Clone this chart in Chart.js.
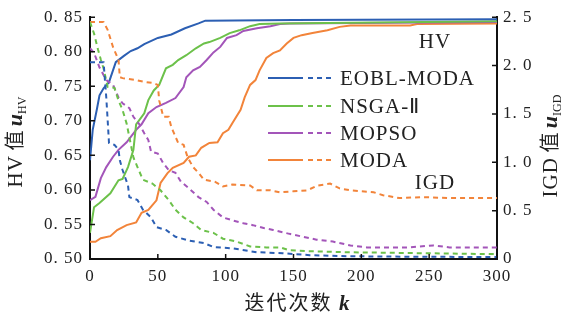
<!DOCTYPE html>
<html><head><meta charset="utf-8">
<script src="https://cdn.jsdelivr.net/npm/chart.js@4/dist/chart.umd.min.js"></script>
<style>html,body{margin:0;padding:0;background:#fff}#wrap{width:569px;height:321px;position:relative}</style>
</head><body><div id="wrap"><canvas id="c"></canvas></div>
<script>
// ---- data ----
const seriesNames = ['EOBL-MODA','NSGA-Ⅱ','MOPSO','MODA'];
const seriesColors = ['#2c5fb3','#6cc14a','#a355b9','#f2843a'];
const xTicks = [0,50,100,150,200,250,300];
const hvTicks = [0.50,0.55,0.60,0.65,0.70,0.75,0.80,0.85];
const igdTicks = [0,0.5,1.0,1.5,2.0,2.5];

// HV (left axis, solid)
const hvEoblK = [0,2,5,7,10,14,19,25,30,35,40,50,60,70,80,85,150,300];
const hvEoblV = [0.643,0.687,0.716,0.737,0.747,0.756,0.785,0.794,0.801,0.805,0.811,0.820,0.825,0.834,0.841,0.845,0.846,0.847];
const hvNsgaK = [0,3,7,15,21,24,28,32,34,40,43,47,51,56,61,65,71,78,84,88,96,103,110,118,125,140,300];
const hvNsgaV = [0.538,0.575,0.581,0.595,0.614,0.616,0.633,0.658,0.695,0.711,0.730,0.744,0.752,0.776,0.781,0.788,0.795,0.805,0.812,0.814,0.820,0.827,0.831,0.837,0.840,0.841,0.844];
const hvMopsoK = [0,4,8,12,17,21,27,34,38,43,49,56,63,69,71,76,81,86,91,96,101,108,113,123,133,140,147,300];
const hvMopsoV = [0.585,0.590,0.617,0.633,0.648,0.658,0.669,0.687,0.695,0.711,0.720,0.726,0.733,0.749,0.763,0.773,0.778,0.788,0.799,0.807,0.820,0.824,0.830,0.834,0.837,0.840,0.841,0.843];
const hvModaK = [0,4,8,15,20,27,34,38,43,49,52,57,61,69,73,78,82,88,94,98,102,105,111,114,118,122,125,130,135,140,145,150,156,164,175,184,192,236,241,300];
const hvModaV = [0.525,0.525,0.530,0.533,0.542,0.549,0.553,0.567,0.571,0.585,0.610,0.624,0.632,0.639,0.648,0.650,0.661,0.668,0.669,0.682,0.687,0.697,0.716,0.734,0.752,0.759,0.773,0.791,0.798,0.802,0.812,0.820,0.824,0.827,0.831,0.836,0.838,0.838,0.840,0.841];

// IGD (right axis, dashed)
const igdEoblK = [0,10,12,13,14,18,21,22,24,28,29,35,39,45,49,56,63,73,84,91,105,123,142,162,184,220,300];
const igdEoblV = [2.035,2.035,1.67,1.44,1.20,1.18,1.13,1.02,0.92,0.76,0.64,0.61,0.51,0.43,0.33,0.30,0.23,0.19,0.165,0.124,0.11,0.07,0.06,0.04,0.03,0.025,0.02];
const igdNsgaK = [0,3,6,8,10,13,18,21,24,27,29,32,35,39,46,52,58,63,69,76,82,91,98,108,118,130,140,147,162,189,300];
const igdNsgaV = [2.45,2.33,2.16,2.06,1.97,1.78,1.77,1.64,1.54,1.40,1.26,1.05,0.95,0.82,0.78,0.71,0.61,0.51,0.43,0.37,0.30,0.27,0.21,0.18,0.13,0.12,0.12,0.09,0.08,0.07,0.05];
const igdMopsoK = [0,3,7,12,17,21,24,29,32,36,40,43,45,50,54,58,63,67,73,80,86,91,98,105,113,120,128,135,147,157,167,179,192,204,235,253,265,300];
const igdMopsoV = [2.18,2.13,1.98,1.85,1.80,1.67,1.61,1.56,1.47,1.40,1.30,1.23,1.11,1.09,0.99,0.92,0.89,0.80,0.73,0.64,0.59,0.51,0.43,0.40,0.37,0.35,0.32,0.30,0.26,0.23,0.20,0.18,0.14,0.12,0.12,0.14,0.12,0.12];
const igdModaK = [0,10,13,17,21,22,24,34,41,46,50,51,54,58,60,61,65,69,72,76,80,84,92,98,105,118,123,133,140,150,160,168,177,184,192,209,216,228,245,265,300];
const igdModaV = [2.45,2.45,2.37,2.19,2.06,1.88,1.87,1.85,1.83,1.82,1.80,1.64,1.47,1.47,1.36,1.33,1.20,1.18,1.05,0.95,0.89,0.82,0.80,0.75,0.77,0.76,0.71,0.71,0.69,0.70,0.71,0.76,0.78,0.73,0.71,0.69,0.66,0.63,0.64,0.63,0.63];

// ---- build ----
const pts = (k,v) => k.map((x,i)=>({x:x,y:v[i]}));
const hvSets = [[hvEoblK,hvEoblV],[hvNsgaK,hvNsgaV],[hvMopsoK,hvMopsoV],[hvModaK,hvModaV]];
const igdSets = [[igdEoblK,igdEoblV],[igdNsgaK,igdNsgaV],[igdMopsoK,igdMopsoV],[igdModaK,igdModaV]];
const datasets = [];
igdSets.forEach((s,i)=>datasets.push({label:seriesNames[i]+' IGD',data:pts(s[0],s[1]),yAxisID:'y2',borderColor:seriesColors[i],borderWidth:2,borderDash:[5,4],pointRadius:0,tension:0,fill:false}));
hvSets.forEach((s,i)=>datasets.push({label:seriesNames[i]+' HV',data:pts(s[0],s[1]),yAxisID:'y',borderColor:seriesColors[i],borderWidth:2,pointRadius:0,tension:0,fill:false}));

const SERIF = '"Liberation Serif", "Times New Roman", serif';
const CJK = '"Noto Sans CJK SC", sans-serif';

function drawRich(ctx, segs, x, y, rot){
  ctx.save(); ctx.translate(x,y); ctx.rotate(rot);
  ctx.textAlign='left'; ctx.textBaseline='alphabetic'; ctx.fillStyle='#222';
  let total=0;
  segs.forEach(s=>{ctx.font=s.font; ctx.letterSpacing=(s.ls||0)+'px'; s.w=ctx.measureText(s.t).width+(s.gap||0); total+=s.w;});
  let cx=-total/2;
  segs.forEach(s=>{ctx.font=s.font; ctx.letterSpacing=(s.ls||0)+'px'; ctx.fillText(s.t,cx,(s.dy||0)); cx+=s.w;});
  ctx.restore();
}

const deco = {
  id:'deco',
  beforeDraw(chart){ chart.ctx.letterSpacing='1px'; },
  afterDraw(chart){
    const ctx=chart.ctx, a=chart.chartArea, sx=chart.scales.x, sy=chart.scales.y, sy2=chart.scales.y2;
    ctx.save();
    ctx.letterSpacing='0px';
    ctx.strokeStyle='#111'; ctx.lineWidth=1.5;
    const L=5;
    ctx.beginPath();
    xTicks.forEach(v=>{const p=sx.getPixelForValue(v); ctx.moveTo(p,a.bottom); ctx.lineTo(p,a.bottom-L);});
    hvTicks.forEach(v=>{const p=sy.getPixelForValue(v); ctx.moveTo(a.left,p); ctx.lineTo(a.left+L,p);});
    igdTicks.forEach(v=>{const p=sy2.getPixelForValue(v); ctx.moveTo(a.right,p); ctx.lineTo(a.right-L,p);});
    ctx.stroke();
    // legend
    const rows=[78,106,133,160];
    seriesNames.forEach((n,i)=>{
      const y=rows[i];
      ctx.strokeStyle=seriesColors[i]; ctx.lineWidth=2.2;
      ctx.setLineDash([]); ctx.beginPath(); ctx.moveTo(268,y); ctx.lineTo(303,y); ctx.stroke();
      ctx.setLineDash([5,4]); ctx.beginPath(); ctx.moveTo(308,y); ctx.lineTo(334,y); ctx.stroke();
      ctx.setLineDash([]);
      ctx.fillStyle='#222'; ctx.font='21px '+SERIF; ctx.letterSpacing='1px';
      ctx.textAlign='left'; ctx.textBaseline='middle';
      ctx.fillText(n,340,y+1);
    });
    ctx.letterSpacing='1px';
    ctx.font='21px '+SERIF; ctx.textAlign='center'; ctx.textBaseline='middle'; ctx.fillStyle='#222';
    ctx.fillText('HV',435,42);
    ctx.fillText('IGD',435,183);
    ctx.restore();
    // axis titles
    drawRich(ctx,[{t:'HV',font:'21px '+SERIF,ls:1},{t:' 值 ',font:'20px '+CJK},{t:'u',font:'italic bold 22px '+SERIF},{t:'HV',font:'12px '+SERIF,dy:4}],22,142,-Math.PI/2);
    drawRich(ctx,[{t:'IGD',font:'21px '+SERIF,ls:1},{t:' 值 ',font:'20px '+CJK},{t:'u',font:'italic bold 22px '+SERIF},{t:'IGD',font:'12px '+SERIF,dy:4}],557,146,-Math.PI/2);
    drawRich(ctx,[{t:'迭代次数 ',font:'20px '+CJK,ls:2},{t:'k',font:'italic bold 21px '+SERIF}],297,310,0);
  }
};

new Chart(document.getElementById('c'),{
  type:'line',
  data:{datasets:datasets},
  plugins:[deco],
  options:{
    responsive:true, maintainAspectRatio:false, animation:false,
    layout:{padding:{top:17,left:0,right:0,bottom:0}},
    plugins:{legend:{display:false},tooltip:{enabled:false}},
    scales:{
      x:{type:'linear',min:0,max:300,
        afterBuildTicks:s=>{s.ticks=xTicks.map(v=>({value:v}));},
        afterFit:s=>{s.height=62;},
        grid:{display:false,drawTicks:false},
        border:{display:true,color:'#111',width:2},
        ticks:{color:'#222',font:{family:SERIF,size:17},padding:7,maxRotation:0,callback:v=>String(v)}},
      y:{type:'linear',position:'left',min:0.5,max:0.85,
        afterBuildTicks:s=>{s.ticks=hvTicks.map(v=>({value:v}));},
        afterFit:s=>{s.width=90;},
        grid:{display:false,drawTicks:false},
        border:{display:true,color:'#111',width:2},
        ticks:{color:'#222',font:{family:SERIF,size:17},padding:7,callback:v=>{const s=v.toFixed(2);return s.replace('.','. ');}}},
      y2:{type:'linear',position:'right',min:0,max:2.5,
        afterBuildTicks:s=>{s.ticks=igdTicks.map(v=>({value:v}));},
        afterFit:s=>{s.width=72;},
        grid:{display:false,drawTicks:false},
        border:{display:true,color:'#111',width:2},
        ticks:{color:'#222',font:{family:SERIF,size:17},padding:6,callback:v=>{if(v===0)return '0';return v.toFixed(1).replace('.','. ');}}}
    }
  }
});
</script></body></html>
